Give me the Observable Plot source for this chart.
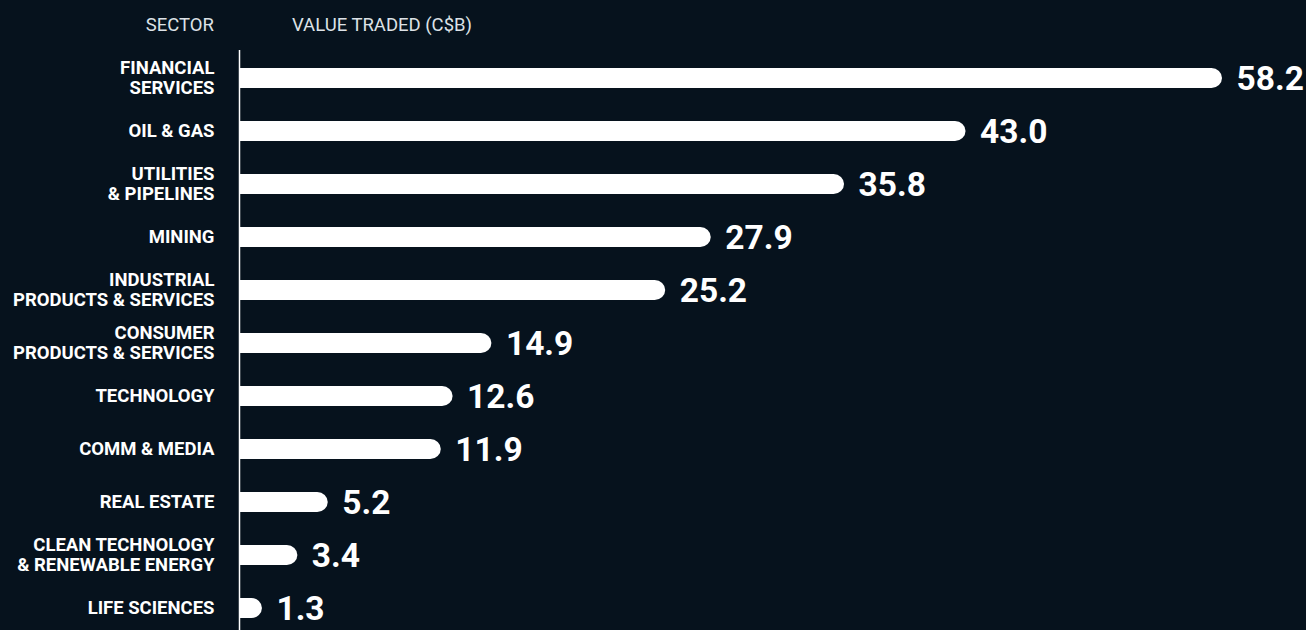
<!DOCTYPE html>
<html>
<head>
<meta charset="utf-8">
<script src="https://cdn.jsdelivr.net/npm/d3@7"></script>
<script src="https://cdn.jsdelivr.net/npm/@observablehq/plot@0.6"></script>
<style>
  html, body { margin: 0; padding: 0; background: #06121d; }
  body { width: 1306px; height: 630px; overflow: hidden; position: relative; font-family: Roboto, "Noto Sans", sans-serif; }
  #header { position: relative; height: 50px; color: #dde2e7; font-size: 18.5px; font-weight: 400; }
  #header span { position: absolute; top: 15px; line-height: 20px; }
  #h1 { right: calc(1306px - 214px); }
  #h2 { left: 292px; }
  #chart svg { display: block; }
</style>
</head>
<body>
<div id="header"><span id="h1">SECTOR</span><span id="h2">VALUE TRADED (C$B)</span></div>
<div id="chart"></div>
<script>
const sectors = [
  "FINANCIAL\nSERVICES",
  "OIL & GAS",
  "UTILITIES\n& PIPELINES",
  "MINING",
  "INDUSTRIAL\nPRODUCTS & SERVICES",
  "CONSUMER\nPRODUCTS & SERVICES",
  "TECHNOLOGY",
  "COMM & MEDIA",
  "REAL ESTATE",
  "CLEAN TECHNOLOGY\n& RENEWABLE ENERGY",
  "LIFE SCIENCES"
];
const values = [58.2, 43.0, 35.8, 27.9, 25.2, 14.9, 12.6, 11.9, 5.2, 3.4, 1.3];

const data = sectors.map((s, i) => ({sector: s, value: values[i]}));
const fmt = d3.format(".1f");

const chart = Plot.plot({
  width: 1306,
  height: 580,
  marginLeft: 240,
  marginRight: 84,
  marginTop: 0,
  marginBottom: 0,
  style: {background: "transparent", overflow: "visible", color: "#ffffff"},
  x: {domain: [0, 58.2], axis: null},
  y: {domain: sectors, range: [1.5, 584.5], paddingInner: 0.62, paddingOuter: 0.31, axis: null},
  marks: [
    Plot.barX(data, {y: "sector", x: "value", fill: "#ffffff", rx: 10.5}),
    Plot.barX(data, {y: "sector", x1: 0, x2: d => d.value / 2, fill: "#ffffff"}),
    Plot.ruleX([0], {stroke: "#ffffff", strokeWidth: 1.5, dx: -1}),
    Plot.text(data, {
      y: "sector", x: 0, text: "sector", textAnchor: "end", dx: -26, dy: -1,
      fill: "#ffffff", fontSize: 18.5, fontWeight: 700, fontFamily: "Roboto",
      lineHeight: 1.08, lineAnchor: "middle"
    }),
    Plot.text(data, {
      y: "sector", x: "value", text: d => fmt(d.value), textAnchor: "start", dx: 14, dy: 1,
      fill: "#ffffff", fontSize: 33.5, fontWeight: 700, fontFamily: "Roboto"
    })
  ]
});
document.getElementById("chart").appendChild(chart);
</script>
</body>
</html>
